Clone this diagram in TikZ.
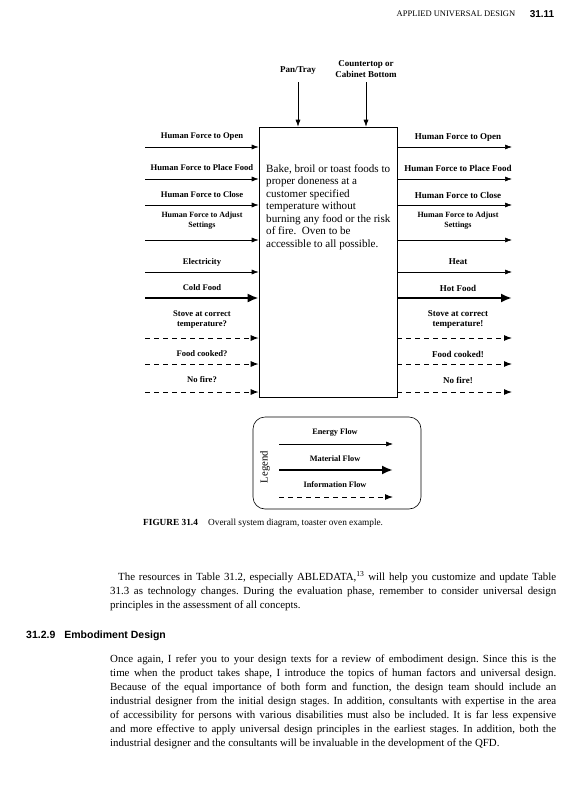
\documentclass[tikz,border=0pt]{standalone}
\usepackage{fontspec}
\setmainfont{Liberation Serif}
\setsansfont{Liberation Sans}
\usetikzlibrary{arrows.meta}

\tikzset{
  energy/.style={-{Latex[length=7pt,width=5pt]}, line width=0.6pt},
  material/.style={-{Latex[length=11pt,width=9pt]}, line width=2.2pt},
  info/.style={-{Latex[length=8pt,width=6pt]}, line width=1pt, dash pattern=on 5pt off 4pt},
  lab/.style={font=\bfseries\fontsize{8.6}{10.2}\selectfont, align=center, inner sep=0pt},
  rlab/.style={font=\bfseries\fontsize{9}{10.2}\selectfont, align=center, inner sep=0pt},
  smalllab/.style={font=\bfseries\fontsize{8}{10}\selectfont, align=center, inner sep=0pt},
  leglab/.style={font=\bfseries\fontsize{8.3}{10}\selectfont, inner sep=0pt},
  bodytext/.style={anchor=north west, inner sep=0pt, text width=446pt, align=justify,
    font=\fontsize{10.9}{14}\selectfont\frenchspacing},
}

\begin{document}
\begin{tikzpicture}[x=1pt,y=-1pt]
\useasboundingbox (0,0) rectangle (581,800);

% running head
\node (runhead) at (456,14) [font=\fontsize{8.5}{10}\selectfont, inner sep=0pt] {APPLIED UNIVERSAL DESIGN};
\node (pagenum) at (542,14) [font=\sffamily\bfseries\fontsize{10}{11}\selectfont, inner sep=0pt] {31.11};

% the oven
\node (oven) at (328,262) [draw, line width=0.6pt, minimum width=138pt, minimum height=270pt, inner sep=0pt] {};
\node (ovtext) at (266,164) [anchor=north west, inner sep=0pt, align=left, font=\fontsize{11.1}{12.5}\selectfont]
  {Bake, broil or toast foods to\\proper doneness at a\\customer specified\\temperature without\\burning any food or the risk\\of fire.\ \ Oven to be\\accessible to all possible.};

% from above
\node (pan) at (298,71) [rlab] {Pan/Tray};
\node (counter) at (366,69) [rlab] {Countertop or\\Cabinet Bottom};
\coordinate (pantop) at (298,82);
\coordinate (countertop) at (366,82);
\draw[energy] (pantop) -- (pantop |- oven.north);
\draw[energy] (countertop) -- (countertop |- oven.north);

% inputs and outputs
\foreach \y/\sty [count=\i] in {147/energy,179/energy,205/energy,240/energy,272/energy,298/material,338/info,364/info,392/info}{
  \coordinate (in\i) at (145,\y);
  \coordinate (out\i) at (512,\y);
  \draw[\sty] (in\i) -- (in\i -| oven.west);
  \draw[\sty] (out\i -| oven.east) -- (out\i);
}

\node (lin1) at (202,137) [lab] {Human Force to Open};
\node (lin2) at (202,168) [lab] {Human Force to Place Food};
\node (lin3) at (202,195) [lab] {Human Force to Close};
\node (lin4) at (202,221) [smalllab] {Human Force to Adjust\\Settings};
\node (lin5) at (202,262) [lab] {Electricity};
\node (lin6) at (202,288) [lab] {Cold Food};
\node (lin7) at (202,319.5) [lab] {Stove at correct\\temperature?};
\node (lin8) at (202,354) [lab] {Food cooked?};
\node (lin9) at (202,380) [lab] {No fire?};

\node (lout1) at (458,137) [rlab] {Human Force to Open};
\node (lout2) at (458,168) [rlab] {Human Force to Place Food};
\node (lout3) at (458,195) [rlab] {Human Force to Close};
\node (lout4) at (458,221) [smalllab] {Human Force to Adjust\\Settings};
\node (lout5) at (458,262) [rlab] {Heat};
\node (lout6) at (458,288) [rlab] {Hot Food};
\node (lout7) at (458,319.5) [rlab] {Stove at correct\\temperature!};
\node (lout8) at (458,354) [rlab] {Food cooked!};
\node (lout9) at (458,380) [rlab] {No fire!};

% legend
\node (legend) at (337,463) [draw, line width=0.6pt, rounded corners=12pt, minimum width=168pt, minimum height=92pt] {};
\node (legtitle) at (265,467) [rotate=90, inner sep=0pt, font=\fontsize{10.7}{12}\selectfont] {Legend};
\coordinate (ea) at (279,444);
\coordinate (eb) at (393,444);
\coordinate (ma) at (279,470);
\coordinate (mb) at (393,470);
\coordinate (ia) at (279,497);
\coordinate (ib) at (393,497);
\draw[energy] (ea) -- (eb);
\draw[material] (ma) -- (mb);
\draw[info] (ia) -- (ib);
\node (energylab) at (335,433) [leglab] {Energy Flow};
\node (materiallab) at (335,459) [leglab] {Material Flow};
\node (infolab) at (335,485) [leglab] {Information Flow};

% caption and text
\node (caption) at (143,523) [anchor=west, inner sep=0pt, font=\fontsize{9.3}{11}\selectfont]
  {\textbf{FIGURE 31.4}\hspace{1.1em}Overall system diagram, toaster oven example.};

\node (para1) at (110,570.5) [bodytext]
  {\strut\hspace*{8pt}The resources in Table 31.2, especially ABLEDATA,\textsuperscript{13} will help you customize and update Table\linebreak
   31.3 as technology changes. During the evaluation phase, remember to consider universal design\linebreak
   principles in the assessment of all concepts.};

\node (sechead) at (26,636) [anchor=west, inner sep=0pt, font=\sffamily\bfseries\fontsize{10.5}{12}\selectfont]
  {31.2.9\hspace{9pt}Embodiment Design};

\node (para2) at (110,652.5) [bodytext]
  {\strut Once again, I refer you to your design texts for a review of embodiment design. Since this is the\linebreak
   time when the product takes shape, I introduce the topics of human factors and universal design.\linebreak
   Because of the equal importance of both form and function, the design team should include an\linebreak
   industrial designer from the initial design stages. In addition, consultants with expertise in the area\linebreak
   of accessibility for persons with various disabilities must also be included. It is far less expensive\linebreak
   and more effective to apply universal design principles in the earliest stages. In addition, both the\linebreak
   industrial designer and the consultants will be invaluable in the development of the QFD.};
\end{tikzpicture}
\end{document}
